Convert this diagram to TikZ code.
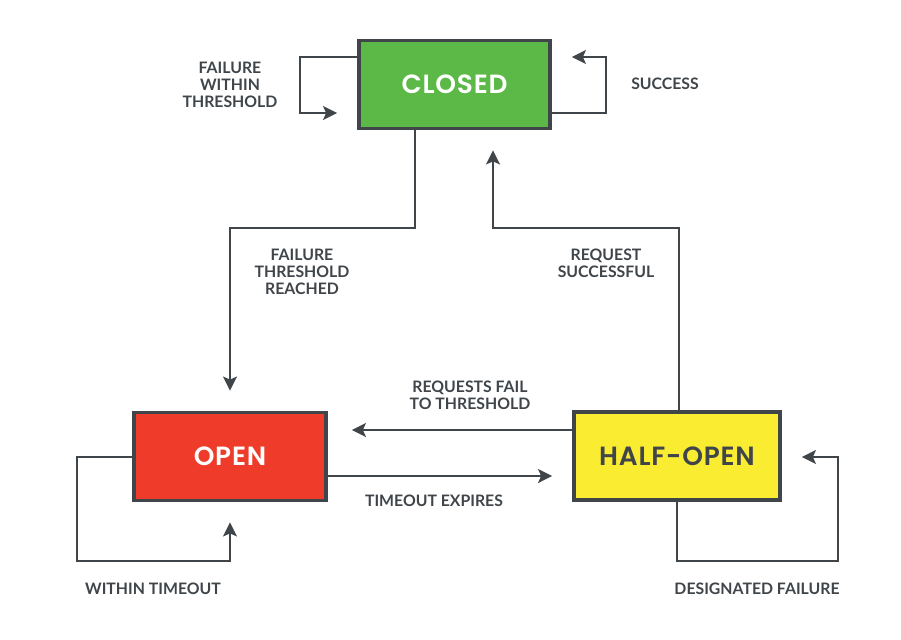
\documentclass[tikz,border=0pt]{standalone}
\usepackage{fontspec}
\setmainfont{Lato}
\newfontfamily\boxfont{Poppins SemiBold}[LetterSpace=3]
\usetikzlibrary{arrows,arrows.meta,positioning,calc}
\definecolor{linegray}{HTML}{40454A}
\definecolor{closedgreen}{HTML}{5CB947}
\definecolor{openred}{HTML}{EE3B2A}
\definecolor{halfyellow}{HTML}{F9EC31}
\tikzset{
  state/.style={draw=linegray, line width=2.2pt, minimum height=1.76cm, font=\boxfont\fontsize{15}{17}\selectfont},
  flow/.style={draw=linegray, line width=1.1pt, -{Stealth[length=0.28cm,width=0.28cm,inset=0.06cm]}, shorten >=0.4cm},
  lbl/.style={text=linegray, font=\bfseries\fontsize{9}{9.64}\selectfont, align=center}
}
\begin{document}
\begin{tikzpicture}[x=0.02cm,y=-0.02cm]
\useasboundingbox (0,0) rectangle (901,639);
\node[state,fill=closedgreen,text=white,minimum width=3.82cm] (closed) at (454.5,84.5) {CLOSED};
\node[state,fill=openred,text=white,minimum width=3.84cm] (open) at (230,456.5) {OPEN};
\node[state,fill=halfyellow,text=linegray,minimum width=4.12cm] (halfopen) at (677,456) {HALF-OPEN};

\draw[flow] (closed.west |- 0,57) -| (300,113) -- (closed.west |- 0,113);
\draw[flow] (closed.east |- 0,113) -| (606,57) -- (closed.east |- 0,57);
\draw[flow] (closed.south -| 415,0) |- (230,228) -- (open.north);
\draw[flow] (halfopen.north -| 679,0) |- (493,228) -- (closed.south -| 493,0);
\draw[flow,shorten >=0.48cm] (halfopen.west |- 0,430) -- (open.east |- 0,430);
\draw[flow] (open.east |- 0,476) -- (halfopen.west |- 0,476);
\draw[flow] (open.west |- 0,457) -| (77,561) -| (open.south);
\draw[flow] (halfopen.south -| 677,0) |- (838,561) |- (halfopen.east |- 0,457);

\node[lbl] (failwithin) at (230,85) {FAILURE\\WITHIN\\THRESHOLD};
\node[lbl] (success) at (665,84) {SUCCESS};
\node[lbl] (failreached) at (302,272) {FAILURE\\THRESHOLD\\REACHED};
\node[lbl] (reqsuccess) at (606,263.5) {REQUEST\\SUCCESSFUL};
\node[lbl] (reqfail) at (470,395.5) {REQUESTS FAIL\\TO THRESHOLD};
\node[lbl] (timeout) at (434,501) {TIMEOUT EXPIRES};
\node[lbl] (withintimeout) at (153,589) {WITHIN TIMEOUT};
\node[lbl] (designated) at (757,589) {DESIGNATED FAILURE};
\end{tikzpicture}
\end{document}
